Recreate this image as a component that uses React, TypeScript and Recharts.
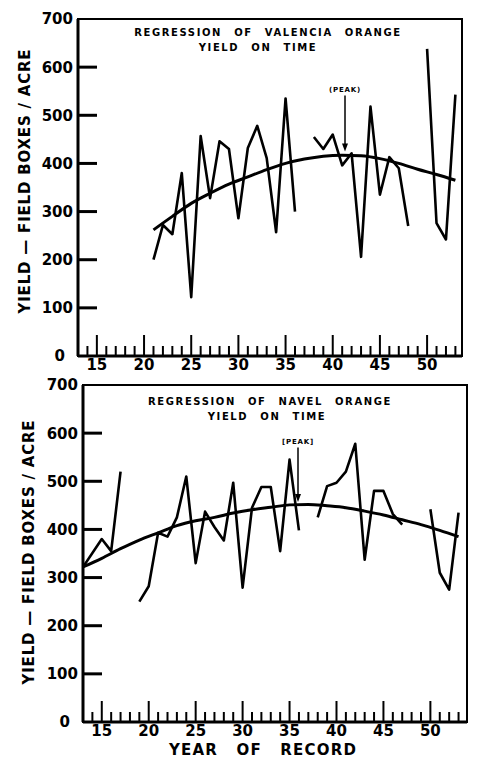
import { LineChart, Line, XAxis, YAxis, ReferenceArea, ReferenceLine } from 'recharts';

// Valencia orange yield (boxes/acre), null = no record
const valenciaYears = [21, 22, 23, 24, 25, 26, 27, 28, 29, 30, 31, 32, 33, 34, 35, 36, 37, 38, 39, 40, 41, 42, 43, 44, 45, 46, 47, 48, 49, 50, 51, 52, 53];
const valenciaYield = [200, 272, 253, 380, 122, 457, 328, 446, 430, 286, 432, 478, 411, 257, 535, 300, null, 455, 430, 460, 396, 421, 206, 518, 335, 413, 390, 270, null, 638, 276, 242, 543];

const valenciaTrendYears = [21, 23, 25, 27, 29, 31, 33, 35, 37, 39, 41, 43, 45, 47, 49, 51, 53];
const valenciaTrend = [262, 290, 317, 338, 357, 372, 387, 400, 409, 415, 417, 416, 410, 400, 388, 377, 365];

// Navel orange yield
const navelYears = [13, 15, 16, 17, 18, 19, 20, 21, 22, 23, 24, 25, 26, 27, 28, 29, 30, 31, 32, 33, 34, 35, 36, 37, 38, 39, 40, 41, 42, 43, 44, 45, 46, 47, 48, 49, 50, 51, 52, 53];
const navelYield = [322, 380, 355, 520, null, 250, 282, 393, 385, 425, 510, 330, 437, 405, 377, 497, 279, 445, 488, 488, 355, 545, 398, null, 425, 490, 497, 520, 578, 337, 480, 480, 432, 410, null, null, 442, 310, 275, 435];

const navelTrendYears = [13, 15, 17, 19, 21, 23, 25, 27, 29, 31, 33, 35, 37, 39, 41, 43, 45, 47, 49, 51, 53];
const navelTrend = [322, 340, 360, 378, 393, 408, 418, 425, 434, 441, 446, 451, 452, 449, 445, 438, 430, 420, 410, 398, 385];

const yearTicks = [14, 15, 16, 17, 18, 19, 20, 21, 22, 23, 24, 25, 26, 27, 28, 29, 30, 31, 32, 33, 34, 35, 36, 37, 38, 39, 40, 41, 42, 43, 44, 45, 46, 47, 48, 49, 50, 51, 52, 53];
const yieldTicks = [0, 100, 200, 300, 400, 500, 600, 700];

const font = "'DejaVu Sans', sans-serif";

const toPoints = (xs: number[], ys: (number | null)[]) => xs.map((year, i) => ({ year, v: ys[i] }));

function YearTick({ x, y, payload }: any) {
  const major = payload.value % 5 === 0;
  return (
    <g>
      <line x1={x} x2={x} y1={y} y2={y - (major ? 21 : 10)} stroke="#000" strokeWidth={2} />
      {major && (
        <text x={x} y={y + 14} textAnchor="middle" fontFamily={font} fontWeight="bold" fontSize={15} fill="#000">
          {payload.value}
        </text>
      )}
    </g>
  );
}

function YieldTick({ x, y, payload }: any) {
  const v = payload.value;
  return (
    <g>
      {v > 0 && v < 700 && <line x1={x} x2={x + 19} y1={y} y2={y} stroke="#000" strokeWidth={3} />}
      <text x={v === 0 ? x - 13 : x - 5} y={y} dy="0.36em" textAnchor="end" fontFamily={font} fontWeight="bold" fontSize={15} fill="#000">
        {v}
      </text>
    </g>
  );
}

function peakArrow(label: string) {
  return (props: any) => {
    const { x1, y1, x2, y2 } = props;
    return (
      <g>
        <text x={x1} y={y1 - 4} textAnchor="middle" fontFamily={font} fontWeight="bold" fontSize={7} letterSpacing={0.8} fill="#000">
          {label}
        </text>
        <line x1={x1} y1={y1} x2={x2} y2={y2 - 5} stroke="#000" strokeWidth={1.5} />
        <polygon points={`${x2 - 3},${y2 - 8} ${x2 + 3},${y2 - 8} ${x2},${y2}`} fill="#000" />
      </g>
    );
  };
}

interface PanelProps {
  height: number;
  top: number;
  right: number;
  axisWidth: number;
  xMax: number;
  data: { year: number; v: number | null }[];
  trend: { year: number; v: number | null }[];
  peak: { year: number; from: number; to: number; label: string };
}

function Panel({ height, top, right, axisWidth, xMax, data, trend, peak }: PanelProps) {
  return (
    <LineChart width={479} height={height} margin={{ top, right, left: 0, bottom: 0 }}>
      <XAxis
        dataKey="year"
        type="number"
        domain={[13, xMax]}
        allowDataOverflow
        ticks={yearTicks}
        interval={0}
        tickSize={0}
        tickMargin={0}
        tick={YearTick}
        height={height - top - 337}
        axisLine={{ stroke: '#000', strokeWidth: 3 }}
      />
      <YAxis
        type="number"
        domain={[0, 700]}
        allowDataOverflow
        ticks={yieldTicks}
        interval={0}
        tickSize={0}
        tickMargin={0}
        tick={YieldTick}
        width={axisWidth}
        axisLine={{ stroke: '#000', strokeWidth: 3 }}
      />
      <ReferenceArea x1={13} x2={xMax} y1={0} y2={700} fill="none" stroke="#000" strokeWidth={2} ifOverflow="visible" />
      <Line data={trend} dataKey="v" type="monotone" stroke="#000" strokeWidth={3} dot={false} isAnimationActive={false} />
      <Line
        data={data}
        dataKey="v"
        type="linear"
        stroke="#000"
        strokeWidth={2.6}
        strokeLinejoin="round"
        dot={false}
        connectNulls={false}
        isAnimationActive={false}
      />
      <ReferenceLine
        segment={[{ x: peak.year, y: peak.from }, { x: peak.year, y: peak.to }]}
        ifOverflow="visible"
        shape={peakArrow(peak.label)}
      />
    </LineChart>
  );
}

const titleStyle: React.CSSProperties = {
  position: 'absolute',
  transform: 'translate(-50%, -50%)',
  whiteSpace: 'nowrap',
  fontFamily: font,
  fontWeight: 'bold',
  fontSize: 10,
  letterSpacing: 1.6,
  wordSpacing: 7,
  lineHeight: 1,
};

const yTitleStyle: React.CSSProperties = {
  position: 'absolute',
  transform: 'translate(-50%, -50%) rotate(-90deg)',
  whiteSpace: 'nowrap',
  fontFamily: font,
  fontWeight: 'bold',
  fontSize: 15,
  letterSpacing: 0.8,
  lineHeight: 1,
};

export default function App() {
  return (
    <div style={{ position: 'absolute', left: 0, top: 0, width: 479, height: 758, background: '#fff', overflow: 'hidden' }}>
      <div style={{ position: 'absolute', left: 0, top: 0 }}>
        <Panel
          height={380}
          top={19}
          right={17}
          axisWidth={78}
          xMax={53.7}
          data={toPoints(valenciaYears, valenciaYield)}
          trend={toPoints(valenciaTrendYears, valenciaTrend)}
          peak={{ year: 41.3, from: 541, to: 425, label: '(PEAK)' }}
        />
      </div>
      <div style={{ position: 'absolute', left: 0, top: 370 }}>
        <Panel
          height={388}
          top={15}
          right={12}
          axisWidth={83}
          xMax={53.9}
          data={toPoints(navelYears, navelYield)}
          trend={toPoints(navelTrendYears, navelTrend)}
          peak={{ year: 35.9, from: 570, to: 457, label: '[PEAK]' }}
        />
      </div>
      <div style={{ ...titleStyle, left: 268, top: 33 }}>REGRESSION OF VALENCIA ORANGE</div>
      <div style={{ ...titleStyle, left: 258, top: 48 }}>YIELD ON TIME</div>
      <div style={{ ...titleStyle, left: 270, top: 402 }}>REGRESSION OF NAVEL ORANGE</div>
      <div style={{ ...titleStyle, left: 267, top: 417 }}>YIELD ON TIME</div>
      <div style={{ ...yTitleStyle, left: 25, top: 181 }}>YIELD — FIELD BOXES / ACRE</div>
      <div style={{ ...yTitleStyle, left: 29, top: 552 }}>YIELD — FIELD BOXES / ACRE</div>
      <div style={{ position: 'absolute', left: 263, top: 750, transform: 'translate(-50%, -50%)', whiteSpace: 'nowrap', fontFamily: font, fontWeight: 'bold', fontSize: 15, letterSpacing: 1.2, wordSpacing: 12, lineHeight: 1 }}>
        YEAR OF RECORD
      </div>
    </div>
  );
}
